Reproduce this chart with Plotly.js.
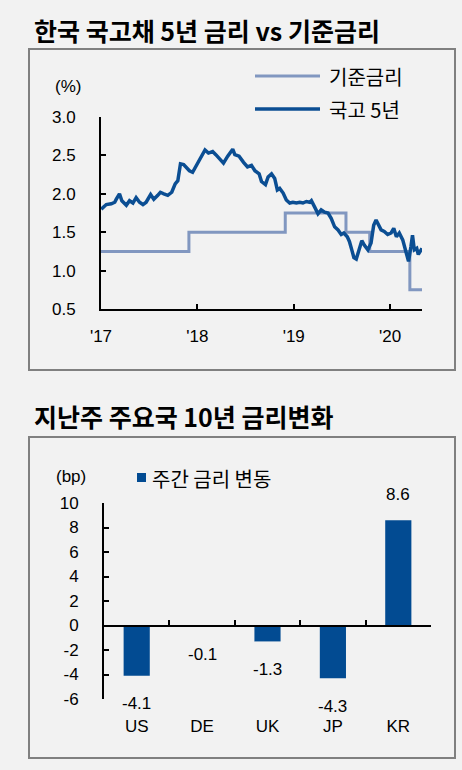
<!DOCTYPE html>
<html><head><meta charset="utf-8">
<script src="https://cdn.plot.ly/plotly-3.0.1.min.js"></script>
<style>html,body{margin:0;padding:0;background:#f2f2f2;}#chart{width:462px;height:770px;}</style>
</head><body><div id="chart"></div>
<script>
// ---- data ----
const ktbDates = ['2017-01-02','2017-01-21','2017-02-09','2017-02-22','2017-02-28','2017-03-12','2017-03-21','2017-04-07','2017-04-19','2017-05-02','2017-05-14','2017-05-27','2017-06-09','2017-06-21','2017-07-08','2017-07-20','2017-08-04','2017-08-14','2017-08-27','2017-09-11','2017-09-26','2017-10-09','2017-10-19','2017-10-29','2017-11-10','2017-11-23','2017-12-02','2017-12-14','2017-12-27','2018-01-09','2018-01-17','2018-01-30','2018-02-12','2018-02-28','2018-03-12','2018-03-25','2018-04-10','2018-04-26','2018-05-15','2018-05-23','2018-06-08','2018-06-25','2018-07-10','2018-07-25','2018-08-07','2018-08-23','2018-09-01','2018-09-16','2018-09-26','2018-10-09','2018-10-21','2018-10-31','2018-11-09','2018-11-22','2018-12-04','2018-12-17','2018-12-29','2019-01-11','2019-01-24','2019-02-05','2019-02-18','2019-03-03','2019-03-09','2019-03-21','2019-04-03','2019-04-15','2019-04-28','2019-05-11','2019-05-23','2019-06-05','2019-06-18','2019-06-30','2019-07-10','2019-07-23','2019-07-31','2019-08-09','2019-08-17','2019-08-26','2019-09-07','2019-09-16','2019-09-26','2019-10-09','2019-10-21','2019-10-31','2019-11-09','2019-11-18','2019-11-28','2019-12-10','2019-12-23','2020-01-05','2020-01-15','2020-01-25','2020-02-05','2020-02-18','2020-02-24','2020-03-05','2020-03-11','2020-03-20','2020-03-26','2020-04-02','2020-04-11','2020-04-17','2020-04-25','2020-05-01'];
const ktb5y = [1.80,1.86,1.87,1.89,1.93,2.00,1.91,1.85,1.91,1.88,1.95,1.89,1.86,1.89,1.99,1.93,1.98,2.02,2.00,1.98,2.02,2.13,2.17,2.39,2.38,2.34,2.30,2.28,2.36,2.42,2.47,2.57,2.53,2.55,2.51,2.46,2.40,2.49,2.58,2.51,2.49,2.41,2.35,2.37,2.30,2.26,2.16,2.12,2.22,2.26,2.20,2.05,2.07,2.01,1.92,1.88,1.89,1.88,1.89,1.88,1.90,1.89,1.91,1.83,1.74,1.79,1.76,1.75,1.68,1.57,1.53,1.47,1.49,1.44,1.38,1.27,1.17,1.15,1.27,1.39,1.33,1.27,1.36,1.59,1.66,1.60,1.53,1.51,1.47,1.49,1.55,1.44,1.49,1.40,1.31,1.17,1.12,1.31,1.46,1.27,1.29,1.21,1.27,1.29];
const baseDates = ['2017-01-01','2017-11-30','2018-11-30','2019-07-18','2019-10-16','2020-03-16','2020-05-01'];
const baseRate  = [1.25,1.50,1.75,1.50,1.25,0.75,0.75];
const xTickDates = ['2017-01-01','2018-01-01','2019-01-01','2020-01-01'];
const xTickText  = ["'17","'18","'19","'20"];
const yTicks1 = [0.5,1.0,1.5,2.0,2.5,3.0];

const countries = ['US','DE','UK','JP','KR'];
const weeklyChange = [-4.1,-0.1,-1.3,-4.3,8.6];
const yTicks2 = [-6,-4,-2,0,2,4,6,8,10];

// ---- style ----
const W = 462, H = 770;
const px = v => v / W, py = v => 1 - v / H;
const cDark = '#0b4e93', cLight = '#8197c0', cBar = '#024b92';
const tickFont = {family:'Liberation Sans, Arial, sans-serif', size:17, color:'#000'};
const krFont = {family:'Noto Sans CJK KR, sans-serif', size:20, color:'#000'};
const titleFont = {family:'Noto Sans CJK KR, sans-serif', size:25, color:'#000'};

const y2Dom = [py(699), py(503)];
const y2Range = [-6, 10];
const zeroPos = y2Dom[0] + (0 - y2Range[0]) / (y2Range[1] - y2Range[0]) * (y2Dom[1] - y2Dom[0]);

const traces = [
  {x: baseDates, y: baseRate, type:'scatter', mode:'lines', line:{shape:'hv', color:cLight, width:3}, xaxis:'x', yaxis:'y', hoverinfo:'skip'},
  {x: ktbDates, y: ktb5y, type:'scatter', mode:'lines', line:{color:cDark, width:3.5}, xaxis:'x', yaxis:'y', hoverinfo:'skip'},
  {x: countries, y: weeklyChange, type:'bar', width:0.4, marker:{color:cBar}, xaxis:'x2', yaxis:'y2', hoverinfo:'skip'},
  // empty helper trace so the zero-line axis (x3) is created
  {x: [], y: [], type:'scatter', mode:'none', xaxis:'x3', yaxis:'y2', hoverinfo:'skip'}
];

const axisCommon = {showline:true, linecolor:'#000', linewidth:2, ticks:'inside', ticklen:5, tickwidth:2, tickcolor:'#000', showgrid:false, zeroline:false, tickfont:tickFont, fixedrange:true};

const annotations = [
  {text:'<b>한국 국고채 5년 금리 vs 기준금리</b>', x:px(32), y:py(30), xref:'paper', yref:'paper', xanchor:'left', yanchor:'middle', showarrow:false, font:titleFont},
  {text:'<b>지난주 주요국 10년 금리변화</b>', x:px(32), y:py(416), xref:'paper', yref:'paper', xanchor:'left', yanchor:'middle', showarrow:false, font:titleFont},
  {text:'(%)', x:px(68), y:py(86), xref:'paper', yref:'paper', xanchor:'center', yanchor:'middle', showarrow:false, font:tickFont},
  {text:'(bp)', x:px(71), y:py(476), xref:'paper', yref:'paper', xanchor:'center', yanchor:'middle', showarrow:false, font:tickFont},
  {text:'기준금리', x:px(327), y:py(77), xref:'paper', yref:'paper', xanchor:'left', yanchor:'middle', showarrow:false, font:krFont},
  {text:'국고 5년', x:px(327), y:py(109), xref:'paper', yref:'paper', xanchor:'left', yanchor:'middle', showarrow:false, font:krFont},
  {text:'주간 금리 변동', x:px(150), y:py(478), xref:'paper', yref:'paper', xanchor:'left', yanchor:'middle', showarrow:false, font:krFont}
];
countries.forEach((c, i) => {
  const v = weeklyChange[i];
  annotations.push({text: v.toFixed(1), x:c, y:v, xref:'x2', yref:'y2', xanchor:'center', yanchor:'middle', yshift: v >= 0 ? 26 : -28, showarrow:false, font:tickFont});
});

const shapes = [
  {type:'rect', xref:'paper', yref:'paper', x0:px(29), x1:px(455), y0:py(370), y1:py(49), line:{color:'#808080', width:2}},
  {type:'rect', xref:'paper', yref:'paper', x0:px(29), x1:px(455), y0:py(758), y1:py(437), line:{color:'#808080', width:2}},
  {type:'line', xref:'paper', yref:'paper', x0:px(255), x1:px(320), y0:py(76), y1:py(76), line:{color:cLight, width:3}},
  {type:'line', xref:'paper', yref:'paper', x0:px(255), x1:px(320), y0:py(109), y1:py(109), line:{color:cDark, width:3.5}},
  {type:'rect', xref:'paper', yref:'paper', x0:px(137), x1:px(146), y0:py(482), y1:py(473), fillcolor:cBar, line:{width:0}}
];

const layout = {
  width:W, height:H, margin:{l:0,r:0,t:0,b:0},
  paper_bgcolor:'#f2f2f2', plot_bgcolor:'rgba(0,0,0,0)', showlegend:false,
  xaxis: Object.assign({}, axisCommon, {type:'date', domain:[px(101), px(422)], anchor:'y', range:['2017-01-01','2020-05-01'], tickvals:xTickDates, ticktext:xTickText, ticklabelstandoff:11}),
  yaxis: Object.assign({}, axisCommon, {domain:[py(309), py(117)], anchor:'x', range:[0.5,3.0], tickvals:yTicks1, tickformat:'.1f', ticklabelstandoff:20}),
  xaxis2: Object.assign({}, axisCommon, {type:'category', domain:[px(104), px(431)], anchor:'y2', showline:false, ticks:'', range:[-0.5,4.5], ticklabelstandoff:15}),
  yaxis2: Object.assign({}, axisCommon, {domain:y2Dom, anchor:'x2', range:y2Range, tickvals:yTicks2, ticktext:yTicks2.map(String), ticklabelstandoff:20}),
  xaxis3: Object.assign({}, axisCommon, {overlaying:'x2', anchor:'free', position:zeroPos, type:'linear', range:[-0.5,4.5], tickvals:[0.5,1.5,2.5,3.5,4.5], showticklabels:false, layer:'above traces'}),
  annotations: annotations, shapes: shapes
};

Plotly.newPlot('chart', traces, layout, {staticPlot:true, displayModeBar:false});
</script></body></html>
